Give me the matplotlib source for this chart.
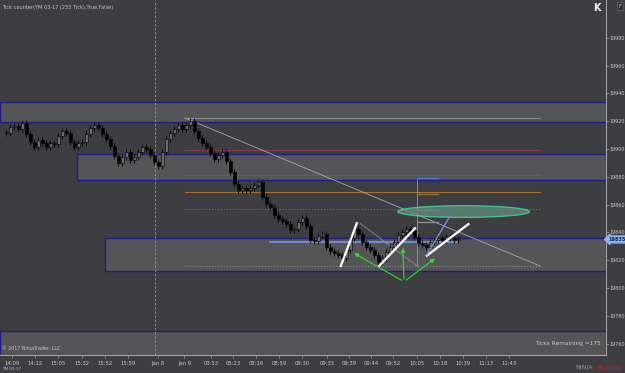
import matplotlib
matplotlib.use("Agg")
import matplotlib.pyplot as plt
from matplotlib.patches import Rectangle, Ellipse, FancyArrowPatch
from matplotlib.transforms import blended_transform_factory

# ---------------------------------------------------------------
# data (YM 03-17, 233 tick bars)
# ---------------------------------------------------------------
closes = [
    19911.5, 19915.8, 19916.5, 19914.4, 19918.7, 19910.8, 19905.0, 19901.4, 19906.4, 19904.3,
    19901.4, 19904.3, 19903.6, 19909.3, 19912.9, 19911.5, 19905.0, 19901.4, 19904.3, 19905.0,
    19910.8, 19915.1, 19917.2, 19915.1, 19910.8, 19907.2, 19902.1, 19894.9, 19889.9, 19894.2,
    19897.8, 19892.1, 19894.2, 19897.8, 19901.4, 19900.0, 19895.7, 19890.6, 19887.8, 19897.8,
    19907.2, 19911.5, 19914.4, 19917.2, 19914.4, 19917.2, 19920.1, 19912.9, 19907.9, 19904.3,
    19901.4, 19897.1, 19892.8, 19895.7, 19897.8, 19891.3, 19883.4, 19874.8, 19870.5, 19871.9,
    19870.5, 19871.9, 19874.1, 19876.2, 19865.5, 19860.4, 19858.3, 19852.5, 19849.6, 19848.2,
    19846.1, 19841.7, 19842.5, 19847.5, 19850.4, 19844.6, 19834.5, 19833.8, 19837.4, 19838.9,
    19829.5, 19826.6, 19825.2, 19823.8, 19821.6, 19827.4, 19836.0, 19842.5, 19838.9, 19833.1,
    19829.5, 19827.4, 19823.8, 19818.7, 19821.6, 19825.9, 19829.5, 19833.1, 19838.1, 19840.3,
    19842.5, 19841.0, 19836.7, 19832.4, 19830.9, 19829.5, 19833.1, 19834.5, 19836.0, 19834.5,
    19836.7, 19836.0, 19834.5, 19835.2,
]
last_price = 19835

x_tick_pos = [2.4, 8.25, 14.1, 19.9, 25.75, 31.4, 38.9, 45.6, 52.2, 57.8, 63.6,
              69.3, 75.0, 81.2, 86.8, 92.2, 97.8, 103.7, 109.5, 115.3, 120.9, 126.8]
x_tick_labels = ["14:09", "14:12", "15:05", "15:32", "15:52", "15:59", "Jan 8", "Jan 9",
                 "03:53", "05:23", "08:16", "08:59", "09:30", "09:33", "09:39", "09:44",
                 "09:52", "10:05", "10:18", "10:39", "11:13", "11:43"]
y_ticks = list(range(19760, 20000, 20))

# supply / demand zones: (left bar, low, high)
zones = [
    (-0.5, 19919.6, 19934.0),
    (18.75, 19877.5, 19896.5),
    (25.75, 19812.5, 19835.7),
    (-0.5, 19740.0, 19769.0),
]

# big fib retracement
fib_x = (45.75, 134.5)
fib_high, fib_low = 19922.3, 19815.9
fib_levels = [0.0, 0.217, 0.382, 0.5, 0.618, 1.0]
fib_colors = ["#8c8c8c", "#8a3a4a", "#2f9a2f", "#a8702a", "#2f9a2f", "#8c8c8c"]
fib_styles = ["-", "-", ":", "-", ":", ":"]

# small fib on the last swing
mini_x = (103.75, 109.0)
mini_high, mini_low = 19879.1, 19815.9
mini_levels = [0.0, 0.185, 0.364, 0.5]
mini_colors = ["#4a78c8", "#8a7a30", "#c0708a", "#8c8c8c"]

white_lines = [
    ((84.7, 19815.9), (88.7, 19846.6)),
    ((94.3, 19815.9), (103.25, 19843.0)),
    ((106.2, 19823.3), (116.6, 19846.0)),
]
blue_line = ((106.2, 19823.8), (111.8, 19850.9))
arrow_origin = (100.5, 19804.6)
arrow_targets = [(87.4, 19826.1), (100.2, 19830.9), (108.8, 19822.5)]

BG = "#3d3d42"
ZONE = "#555558"
NAVY = "#1e1e86"
TXT = "#c8c8c8"

fig = plt.figure(figsize=(6.25, 3.73), dpi=100, facecolor=BG)
ax = fig.add_axes([0, 18 / 373, 606 / 625, 355 / 373], facecolor=BG)
ax.set_xlim(-0.5, 151)
ax.set_ylim(19751.9, 20007.1)

# zones
for left, lo, hi in zones:
    ax.add_patch(Rectangle((left, lo), 151 - left, hi - lo, facecolor=ZONE,
                           edgecolor=NAVY, linewidth=1.0, zorder=1))

# session break
ax.axvline(38.25, color="#9a9a9a", linestyle=(0, (3, 2)), linewidth=0.6, zorder=2)

# fib
for lvl, col, ls in zip(fib_levels, fib_colors, fib_styles):
    y = fib_high - lvl * (fib_high - fib_low)
    ax.plot(fib_x, [y, y], color=col, linestyle=ls, linewidth=0.8, zorder=2)
ax.plot(fib_x, [fib_high, fib_low], color="#a8a8a8", linewidth=0.6, zorder=2)

# mini fib
ax.plot([mini_x[0], mini_x[0]], [mini_high, mini_low], color="#8c8c8c", linewidth=0.7, zorder=2)
for lvl, col in zip(mini_levels, mini_colors):
    y = mini_high - lvl * (mini_high - mini_low)
    ax.plot(mini_x, [y, y], color=col, linewidth=1.0, zorder=2)
ax.plot([89.5, 103.75], [19846.6, 19815.9], color="#8c8c8c", linewidth=0.6, zorder=2)

# light blue level
ax.plot([67, 113.75], [19833.3, 19833.3], color="#6f92d8", linewidth=1.3, zorder=3)

# candles
opens = [closes[0]] + closes[:-1]
xs = list(range(1, len(closes) + 1))
for x, o, c in zip(xs, opens, closes):
    lo, hi = min(o, c), max(o, c)
    ax.vlines(x, lo - 2.0, hi + 2.0, color="black", linewidth=0.6, zorder=4)
    col = "#6a6a6a" if c >= o else "black"
    ax.bar(x, max(hi - lo, 0.6), bottom=lo, width=0.75, color=col,
           edgecolor="black", linewidth=0.4, zorder=5)

# ellipse
ax.add_patch(Ellipse((115.4, 19855.0), 32.9, 8.4, facecolor="#62887a", alpha=0.8,
                     edgecolor="#3ddc9a", linewidth=1.0, zorder=6))

# hand-drawn lines
for (x0, y0), (x1, y1) in white_lines:
    ax.plot([x0, x1], [y0, y1], color="white", linewidth=1.6, zorder=7)
ax.plot([blue_line[0][0], blue_line[1][0]], [blue_line[0][1], blue_line[1][1]],
        color="#6f92d8", linewidth=1.0, zorder=7)
for tx, ty in arrow_targets:
    ax.add_patch(FancyArrowPatch(arrow_origin, (tx, ty), arrowstyle="-|>", mutation_scale=6,
                                 color="#2ee02e", linewidth=0.8, zorder=7))

# axes styling
for side in ("top", "left"):
    ax.spines[side].set_visible(False)
for side in ("bottom", "right"):
    ax.spines[side].set_color("#a0a0a0")
    ax.spines[side].set_linewidth(0.8)
ax.yaxis.tick_right()
ax.set_yticks(y_ticks)
ax.set_yticklabels([str(v) for v in y_ticks])
ax.set_xticks(x_tick_pos)
ax.set_xticklabels(x_tick_labels)
ax.tick_params(colors="#a0a0a0", labelcolor=TXT, length=2, width=0.5)
ax.tick_params(axis="x", labelsize=3.8, pad=2)
ax.tick_params(axis="y", labelsize=3.5, pad=0.6)

# last price marker
tr = blended_transform_factory(ax.transAxes, ax.transData)
ax.text(1.004, last_price, f"{last_price}", transform=tr, fontsize=3.6, color="#1a2a50",
        va="center", ha="left", clip_on=False, weight="bold",
        bbox=dict(boxstyle="larrow,pad=0.2", facecolor="#8ab4f0", edgecolor="#8ab4f0"))

# texts
ax.text(0.004, 0.985, "Tick counter(YM 03-17 (233 Tick),True,False)", transform=ax.transAxes,
        fontsize=3.6, color=TXT, va="top", ha="left")
ax.text(0.004, 0.012, "© 2017 NinjaTrader, LLC", transform=ax.transAxes,
        fontsize=3.4, color=TXT, va="bottom", ha="left")
ax.text(0.992, 0.025, "Ticks Remaining =175", transform=ax.transAxes,
        fontsize=4.2, color=TXT, va="bottom", ha="right")
fig.text(2 / 625, 4 / 373, "YM 03-17", fontsize=3, color=TXT, va="center", ha="left")
fig.text(575 / 625, 5 / 373, "NINJA", fontsize=4.5, color="#9a9a9a", va="center", ha="left")
fig.text(597 / 625, 5 / 373, "TRADER", fontsize=4.5, color="#c03030", va="center", ha="left")
fig.text(597 / 625, 365 / 373, "K", fontsize=7, color="white", weight="bold", va="center", ha="center")
fig.text(620 / 625, 367 / 373, "F", fontsize=4, color=TXT, va="center", ha="center",
         bbox=dict(boxstyle="square,pad=0.2", facecolor="#2a2a2e", edgecolor="#555"))

fig.savefig("out.png", dpi=100, facecolor=BG)
